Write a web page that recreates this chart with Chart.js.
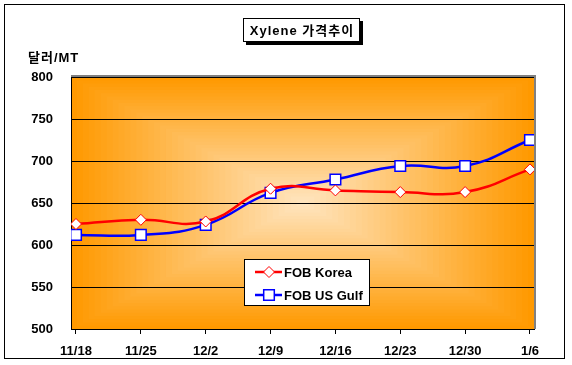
<!DOCTYPE html>
<html>
<head>
<meta charset="utf-8">
<script src="https://cdn.jsdelivr.net/npm/chart.js@4.4.1/dist/chart.umd.min.js"></script>
<style>
  html, body { margin: 0; padding: 0; background: #fff; }
  canvas { display: block; }
</style>
</head>
<body>
<canvas id="chart-cont" width="572" height="365"></canvas>
<script>
// data
var dates = ['11/18', '11/25', '12/2', '12/9', '12/16', '12/23', '12/30', '1/6'];
var fobKorea = [625, 630, 628, 667, 665, 663, 663, 690];
var fobUsGulf = [612, 612, 624, 662, 678, 694, 694, 725];
var yTicks = [500, 550, 600, 650, 700, 750, 800];
var seriesNames = ['FOB Korea', 'FOB US Gulf'];
var chartTitle = 'Xylene 가격추이';
var unitLabel = '달러/MT';

var FONT = '"Liberation Sans", Arial, "Noto Sans CJK KR", sans-serif';

function toPoints(arr) {
    return arr.map(function (v, i) { return { x: i, y: v }; });
}

// orange "from center" fill of the plot area + frame, title, legend
var decor = {
    id: 'decor',
    beforeDraw: function (chart) {
        var ctx = chart.ctx, a = chart.chartArea;
        ctx.save();
        ctx.fillStyle = '#fff';
        ctx.fillRect(0, 0, chart.width, chart.height);

        var cx = (a.left + a.right) / 2, cy = (a.top + a.bottom) / 2;
        var hw = (a.right - a.left) / 2, hh = (a.bottom - a.top) / 2;
        var steps = 40;
        var c0 = [255, 153, 0], c1 = [255, 230, 194];
        for (var s = 0; s < steps; s++) {
            var t = s / (steps - 1);
            var f = 1 - t;
            var r = Math.round(c0[0] + (c1[0] - c0[0]) * t);
            var g = Math.round(c0[1] + (c1[1] - c0[1]) * t);
            var b = Math.round(c0[2] + (c1[2] - c0[2]) * t);
            ctx.fillStyle = 'rgb(' + r + ',' + g + ',' + b + ')';
            ctx.fillRect(cx - hw * f, cy - hh * f, hw * 2 * f, hh * 2 * f);
        }
        ctx.restore();
    },
    afterDraw: function (chart) {
        var ctx = chart.ctx, a = chart.chartArea;
        ctx.save();

        // gray edge on top and right of the plot area
        ctx.strokeStyle = '#808080';
        ctx.lineWidth = 2;
        ctx.beginPath();
        ctx.moveTo(a.left, a.top - 1);
        ctx.lineTo(a.right + 1, a.top - 1);
        ctx.lineTo(a.right + 1, a.bottom);
        ctx.stroke();

        // outer frame
        ctx.strokeStyle = '#000';
        ctx.lineWidth = 1;
        ctx.strokeRect(4.5, 4.5, 560, 354);

        // title box with shadow
        ctx.fillStyle = '#000';
        ctx.fillRect(246, 21, 117, 24);
        ctx.fillStyle = '#fff';
        ctx.fillRect(243, 18, 117, 24);
        ctx.strokeRect(243.5, 18.5, 116, 23);
        ctx.fillStyle = '#000';
        ctx.font = 'bold 13px ' + FONT;
        ctx.textAlign = 'center';
        ctx.textBaseline = 'middle';
        ctx.letterSpacing = '1px';
        ctx.fillText(chartTitle, 302, 31);

        // unit label
        ctx.textAlign = 'left';
        ctx.fillText(unitLabel, 28, 58);
        ctx.letterSpacing = '0px';

        // legend
        ctx.fillStyle = '#fff';
        ctx.fillRect(244, 259, 126, 47);
        ctx.strokeStyle = '#000';
        ctx.strokeRect(244.5, 259.5, 125, 46);
        chart.data.datasets.forEach(function (ds, i) {
            var y = 272 + i * 23;
            ctx.strokeStyle = ds.borderColor;
            ctx.lineWidth = 2.5;
            ctx.beginPath();
            ctx.moveTo(255, y);
            ctx.lineTo(282, y);
            ctx.stroke();
            ctx.fillStyle = '#fff';
            ctx.strokeStyle = ds.pointBorderColor;
            ctx.lineWidth = ds.pointBorderWidth;
            Chart.helpers.drawPoint(ctx, {
                pointStyle: ds.pointStyle,
                radius: ds.pointRadius,
                rotation: 0,
                borderWidth: ds.pointBorderWidth
            }, 269, y);
            ctx.fillStyle = '#000';
            ctx.font = 'bold 13px ' + FONT;
            ctx.textAlign = 'left';
            ctx.textBaseline = 'middle';
            ctx.fillText(ds.label, 284, y + 1);
        });
        ctx.restore();
    }
};

var config = {
    type: 'line',
    data: {
        datasets: [{
            label: seriesNames[0],
            data: toPoints(fobKorea),
            borderColor: '#ff0000',
            borderWidth: 2.5,
            tension: 0.45,
            pointStyle: 'rectRot',
            pointRadius: 5.5,
            pointBackgroundColor: '#fff',
            pointBorderColor: '#ff0000',
            pointBorderWidth: 1
        }, {
            label: seriesNames[1],
            data: toPoints(fobUsGulf),
            borderColor: '#0000ff',
            borderWidth: 2.5,
            tension: 0.45,
            pointStyle: 'rect',
            pointRadius: 7.5,
            pointBackgroundColor: '#fff',
            pointBorderColor: '#0000ff',
            pointBorderWidth: 1.5
        }]
    },
    plugins: [decor],
    options: {
        responsive: false,
        devicePixelRatio: 1,
        animation: false,
        layout: { padding: { left: 0, top: 77, right: 38, bottom: 0 } },
        plugins: {
            legend: { display: false },
            tooltip: { enabled: false },
            title: { display: false }
        },
        scales: {
            x: {
                type: 'linear',
                min: -0.077,
                max: 7.062,
                afterBuildTicks: function (scale) {
                    scale.ticks = dates.map(function (d, i) { return { value: i }; });
                },
                afterFit: function (scale) { scale.height = 36; },
                grid: { drawOnChartArea: false, drawTicks: true, tickLength: 5, color: '#000' },
                border: { color: '#000', width: 1 },
                ticks: {
                    autoSkip: false,
                    maxRotation: 0,
                    padding: 10,
                    color: '#000',
                    font: { family: FONT, size: 13, weight: 'bold' },
                    callback: function (v) { return dates[v]; }
                }
            },
            y: {
                min: 500,
                max: 800,
                afterBuildTicks: function (scale) {
                    scale.ticks = yTicks.map(function (v) { return { value: v }; });
                },
                afterFit: function (scale) { scale.width = 71; },
                grid: { color: '#000', drawTicks: false },
                border: { color: '#000', width: 1 },
                ticks: {
                    padding: 18,
                    color: '#000',
                    font: { family: FONT, size: 13, weight: 'bold' }
                }
            }
        }
    }
};

var chart = new Chart(document.getElementById('chart-cont').getContext('2d'), config);
</script>
</body>
</html>
